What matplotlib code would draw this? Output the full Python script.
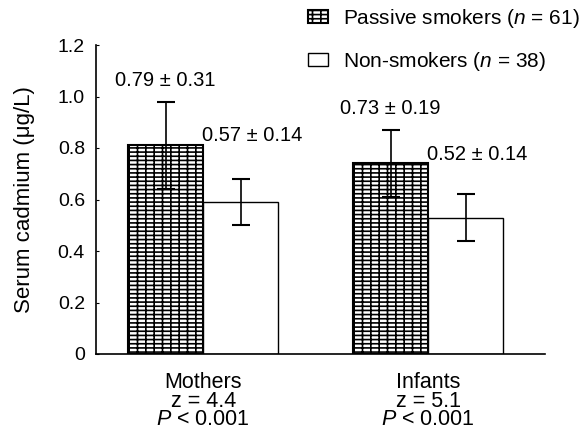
import matplotlib
matplotlib.use("Agg")
import matplotlib.pyplot as plt
import numpy as np

plt.rcParams['font.family'] = ['Liberation Sans', 'DejaVu Sans']
plt.rcParams['mathtext.fontset'] = 'custom'
plt.rcParams['mathtext.it'] = 'Liberation Sans:italic'
plt.rcParams['mathtext.rm'] = 'Liberation Sans'
plt.rcParams['hatch.linewidth'] = 1.2

groups = ["Mothers\nz = 4.4\n$P$ < 0.001", "Infants\nz = 5.1\n$P$ < 0.001"]
passive_vals = [0.81, 0.74]
passive_err = [0.17, 0.13]
non_vals = [0.59, 0.53]
non_err = [0.09, 0.09]
passive_labels = ["0.79 \u00b1 0.31", "0.73 \u00b1 0.19"]
non_labels = ["0.57 \u00b1 0.14", "0.52 \u00b1 0.14"]
yticks = [0, 0.2, 0.4, 0.6, 0.8, 1.0, 1.2]
ytick_labels = ["0", "0.2", "0.4", "0.6", "0.8", "1.0", "1.2"]

fig = plt.figure(figsize=(5.8, 4.32), dpi=100)
ax = fig.add_axes([96/580, 1-354/432, (545-96)/580, (354-45)/432])

x = np.array([0, 3])
bp = ax.bar(x, passive_vals, width=1.0, color='white', edgecolor='black',
            hatch='----||', linewidth=1.5, label='Passive smokers ($n$ = 61)')
bn = ax.bar(x + 1, non_vals, width=1.0, color='white', edgecolor='black',
            linewidth=1.0, label='Non-smokers ($n$ = 38)')
ax.errorbar(x, passive_vals, yerr=passive_err, fmt='none', ecolor='black',
            elinewidth=1.2, capsize=6.5, capthick=1.5)
ax.errorbar(x + 1, non_vals, yerr=non_err, fmt='none', ecolor='black',
            elinewidth=1.2, capsize=6.5, capthick=1.5)

# value annotations
p_label_y = [1.064, 0.955]
n_label_y = [0.85, 0.773]
for i in range(2):
    ax.text(x[i], p_label_y[i], passive_labels[i], ha='center', va='center', fontsize=14.5)
    ax.text(x[i] + 1.15, n_label_y[i], non_labels[i], ha='center', va='center', fontsize=14.5)

ax.set_xlim(-0.93, 5.06)
ax.set_ylim(0, 1.2)
ax.set_yticks(yticks)
ax.set_yticklabels(ytick_labels, fontsize=14)
ax.set_xticks(x + 0.5)
ax.set_xticklabels(groups, fontsize=15.5, linespacing=0.85, va='top')
ax.tick_params(axis='x', length=0, pad=13)
ax.tick_params(axis='y', length=2, direction='in', pad=8)
for s in ['top', 'right']:
    ax.spines[s].set_visible(False)
ax.spines['left'].set_linewidth(1.2)
ax.spines['bottom'].set_linewidth(1.2)
ax.set_ylabel("Serum cadmium (\u03bcg/L)", fontsize=16, labelpad=16)

fig.legend(handles=[bp, bn], loc='upper left', bbox_to_anchor=(308/580, 1 - 7/432),
           frameon=False, fontsize=15, labelspacing=0.95, handlelength=0.96,
           handleheight=0.6, handletextpad=0.72, borderaxespad=0, borderpad=0)

fig.savefig("out.png", dpi=100)
